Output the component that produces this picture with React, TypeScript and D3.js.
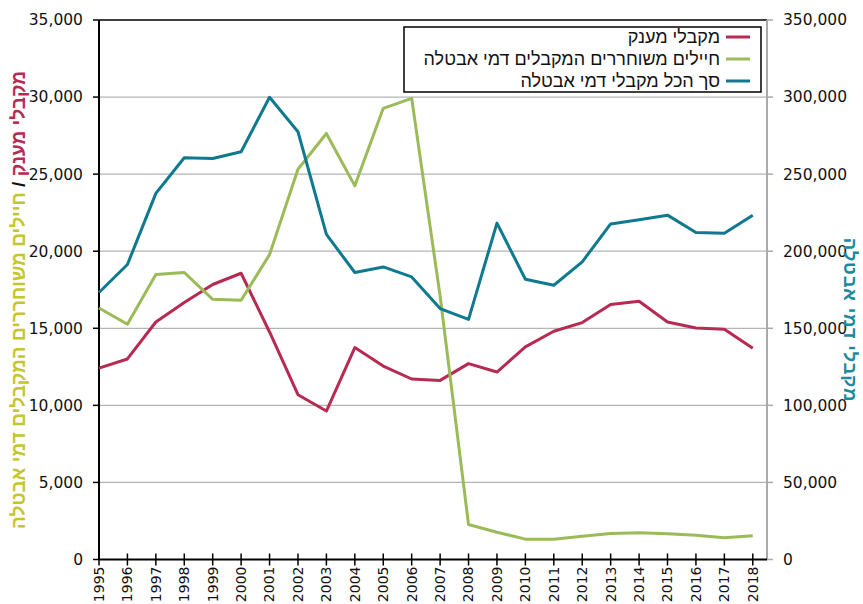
import * as d3 from 'd3';

const years = [1995, 1996, 1997, 1998, 1999, 2000, 2001, 2002, 2003, 2004, 2005, 2006, 2007, 2008, 2009, 2010, 2011, 2012, 2013, 2014, 2015, 2016, 2017, 2018];

// left axis
const grantRecipients = [12420, 13010, 15410, 16670, 17840, 18570, 14760, 10690, 9630, 13750, 12550, 11710, 11620, 12710, 12160, 13790, 14810, 15370, 16540, 16750, 15410, 15020, 14940, 13710];
const soldiersUnemployment = [16320, 15260, 18490, 18620, 16880, 16820, 19780, 25320, 27640, 24240, 29270, 29920, 17100, 2270, 1770, 1320, 1320, 1510, 1690, 1730, 1670, 1580, 1410, 1540];
// right axis
const totalUnemployment = [173200, 191400, 237500, 260600, 260200, 264500, 299900, 277500, 210900, 186200, 189800, 183300, 162800, 155800, 218200, 181800, 177900, 193100, 217700, 220400, 223400, 212100, 211700, 223400];

const leftTicks = [0, 5000, 10000, 15000, 20000, 25000, 30000, 35000];
const rightTicks = [0, 50000, 100000, 150000, 200000, 250000, 300000, 350000];

const legendItems = [
  { label: 'מקבלי מענק', color: '#b72a52' },
  { label: 'חיילים משוחררים המקבלים דמי אבטלה', color: '#9bbb59' },
  { label: 'סך הכל מקבלי דמי אבטלה', color: '#0f7a8f' },
];

const W = 863;
const H = 604;
const plot = { left: 99, right: 767, top: 20, bottom: 559.5 };
const numFont = '"DejaVu Sans", Verdana, sans-serif';
const hebFont = '"Liberation Sans", Arial, sans-serif';

export default function App() {
  const x = d3.scaleLinear().domain([1995, 2018.5]).range([plot.left, plot.right]);
  const yL = d3.scaleLinear().domain([0, 35000]).range([plot.bottom, plot.top]);
  const yR = d3.scaleLinear().domain([0, 350000]).range([plot.bottom, plot.top]);
  const fmt = d3.format(',');

  const lineL = d3.line<number>().x((_, i) => x(years[i])).y((d) => yL(d));
  const lineR = d3.line<number>().x((_, i) => x(years[i])).y((d) => yR(d));

  return (
    <svg width={W} height={H} style={{ position: 'absolute', left: 0, top: 0, background: '#fff' }}>
      {/* gridlines */}
      {leftTicks.slice(1, -1).map((t) => (
        <line key={t} x1={plot.left} x2={plot.right} y1={yL(t)} y2={yL(t)} stroke="#b4b4b4" strokeWidth={1.2} />
      ))}
      <line x1={plot.left} x2={plot.right} y1={plot.top} y2={plot.top} stroke="#000" strokeWidth={1.5} />

      {/* right axis */}
      <line x1={plot.right} x2={plot.right} y1={plot.top} y2={plot.bottom} stroke="#aaa" strokeWidth={2} />
      {rightTicks.map((t) => (
        <g key={t}>
          <line x1={plot.right} x2={plot.right + 6} y1={yR(t)} y2={yR(t)} stroke="#aaa" strokeWidth={1.5} />
          <text x={783} y={yR(t)} dy="0.35em" fontFamily={numFont} fontSize={15.5} fill="#111">{fmt(t)}</text>
        </g>
      ))}

      {/* left axis */}
      <line x1={plot.left} x2={plot.left} y1={plot.top} y2={plot.bottom} stroke="#000" strokeWidth={2} />
      {leftTicks.map((t) => (
        <g key={t}>
          <line x1={plot.left - 6} x2={plot.left} y1={yL(t)} y2={yL(t)} stroke="#000" strokeWidth={1.5} />
          <text x={83} y={yL(t)} dy="0.35em" textAnchor="end" fontFamily={numFont} fontSize={15.5} fill="#111">{fmt(t)}</text>
        </g>
      ))}

      {/* series */}
      <path d={lineL(grantRecipients) ?? ''} fill="none" stroke="#b72a52" strokeWidth={3} strokeLinejoin="round" />
      <path d={lineL(soldiersUnemployment) ?? ''} fill="none" stroke="#9bbb59" strokeWidth={3} strokeLinejoin="round" />
      <path d={lineR(totalUnemployment) ?? ''} fill="none" stroke="#0f7a8f" strokeWidth={3} strokeLinejoin="round" />

      {/* x axis */}
      <line x1={plot.left} x2={plot.right} y1={plot.bottom} y2={plot.bottom} stroke="#000" strokeWidth={2} />
      {years.map((yr) => (
        <g key={yr}>
          <line x1={x(yr)} x2={x(yr)} y1={plot.bottom - 6} y2={plot.bottom + 6} stroke="#000" strokeWidth={1.5} />
          <text transform={`translate(${x(yr)},${plot.bottom + 7}) rotate(-90)`} dy="0.35em" textAnchor="end" fontFamily={numFont} fontSize={14} fill="#111">{yr}</text>
        </g>
      ))}

      {/* legend */}
      <rect x={404} y={27} width={357} height={65} fill="#fff" stroke="#000" strokeWidth={1.5} />
      {legendItems.map((d, i) => (
        <g key={d.label}>
          <line x1={726} x2={750} y1={37 + i * 22} y2={37 + i * 22} stroke={d.color} strokeWidth={3} />
          <text x={720} y={37 + i * 22} dy="0.35em" textAnchor="end" fontFamily={hebFont} fontSize={18} fill="#111">{d.label}</text>
        </g>
      ))}

      {/* axis titles */}
      <text transform="translate(18,300) rotate(-90)" direction="rtl" textAnchor="middle" dy="0.35em" fontFamily={hebFont} fontWeight="bold" fontSize={19}>
        <tspan fill="#b72a52">מקבלי מענק</tspan>
        <tspan fill="#111"> / </tspan>
        <tspan fill="#c5c62e">חיילים משוחררים המקבלים דמי אבטלה</tspan>
      </text>
      <text transform="translate(850,320) rotate(90)" direction="rtl" textAnchor="middle" dy="0.35em" fontFamily={hebFont} fontWeight="bold" fontSize={18.5} letterSpacing={0.8} fill="#1a8a9e">מקבלי דמי אבטלה</text>
    </svg>
  );
}
